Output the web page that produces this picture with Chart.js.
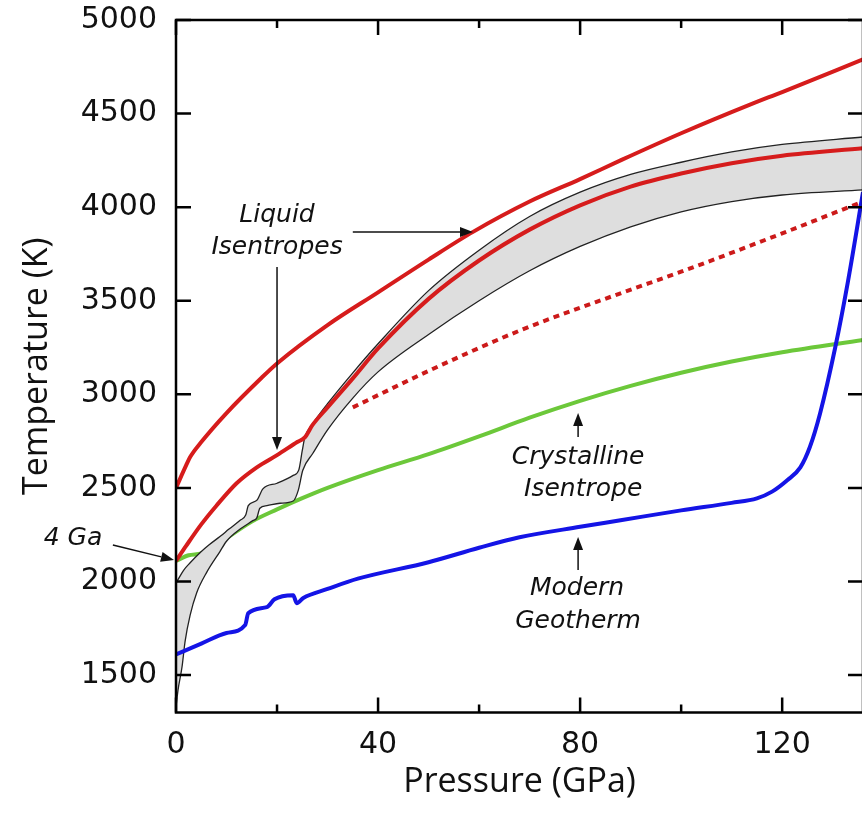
<!DOCTYPE html>
<html>
<head>
<meta charset="utf-8">
<script src="https://cdn.jsdelivr.net/npm/chart.js@4.4.1/dist/chart.umd.min.js"></script>
<style>
  html, body { margin: 0; padding: 0; background: #fff; overflow: hidden; }
  #wrap { position: absolute; left: 0; top: 0; width: 880px; height: 813px; }
</style>
</head>
<body>
<div id="wrap"><canvas id="mainChart" width="880" height="813"></canvas></div>
<script>
// Readings: pressure in GPa, temperature in K.
const hotLiquidP = [0, 2, 2.8, 5, 10, 17, 20, 30, 40, 50, 58.8, 70, 80, 88, 100, 114, 120, 136];
const hotLiquidT = [2500, 2620, 2665, 2745, 2900, 3090, 3165, 3370, 3545, 3720, 3868, 4030, 4150, 4250, 4395, 4552, 4615, 4790];

const liquidP = [0, 2, 5, 8, 12, 16, 20, 24, 25.5, 27, 30, 35, 40, 50, 60, 70, 80, 90, 100, 110, 120, 136];
const liquidT = [2110, 2190, 2305, 2405, 2525, 2610, 2675, 2745, 2770, 2835, 2930, 3085, 3245, 3510, 3715, 3880, 4010, 4110, 4180, 4235, 4275, 4315];

const dottedP = [35, 50, 68, 88, 100, 120, 136];
const dottedT = [2930, 3125, 3340, 3540, 3655, 3860, 4030];

const bandTopP = [0, 0.5, 1.5, 2.8, 4.8, 6.5, 8.7, 10.5, 12.7, 13.8, 14.3, 16, 17.2, 20, 23.2, 24.3, 25, 25.5, 27, 30, 35, 40, 50, 60, 70, 80, 90, 100, 110, 120, 136];
const bandTopT = [1990, 2015, 2060, 2100, 2155, 2195, 2240, 2280, 2327, 2355, 2405, 2434, 2495, 2525, 2567, 2595, 2700, 2770, 2840, 2950, 3115, 3270, 3554, 3770, 3950, 4080, 4175, 4240, 4295, 4335, 4375];

const bandBottomP = [0, 0.4, 1.2, 1.8, 2.8, 4.1, 6.1, 8.7, 10, 12.7, 15.2, 16, 16.6, 18, 20.6, 23.2, 24.2, 25.1, 27.1, 30, 35, 40, 50, 60, 70, 80, 90, 100, 110, 120, 136];
const bandBottomT = [1330, 1420, 1545, 1680, 1820, 1940, 2050, 2160, 2215, 2280, 2325, 2340, 2391, 2405, 2418, 2430, 2487, 2594, 2685, 2810, 2980, 3120, 3320, 3500, 3660, 3790, 3895, 3975, 4030, 4065, 4092];

const crystalP = [0, 2.5, 5, 8, 10, 15, 20, 25, 30, 40, 50, 60, 70, 80, 90, 100, 110, 120, 136];
const crystalT = [2110, 2140, 2150, 2190, 2230, 2320, 2385, 2445, 2500, 2595, 2680, 2775, 2875, 2965, 3045, 3115, 3175, 3225, 3290];

const geothermP = [0, 5, 10, 13.7, 14.3, 18, 19.5, 23.2, 23.9, 25.2, 30, 36, 50, 60, 68, 80, 88, 100, 110, 115, 118, 121, 123.6, 125.5, 127.5, 130.5, 133, 136];
const geothermT = [1610, 1668, 1725, 1767, 1830, 1863, 1905, 1927, 1884, 1912, 1960, 2015, 2103, 2180, 2236, 2292, 2327, 2380, 2420, 2444, 2480, 2541, 2610, 2720, 2898, 3250, 3600, 4080];

const xMajorTicks = [0, 40, 80, 120];
const xMinorTicks = [20, 60, 100];
const yTicks = [1500, 2000, 2500, 3000, 3500, 4000, 4500, 5000];

// Labels and arrows, placed in data units
const notes = [
  { text: 'Liquid', p: 20, t: 3958 },
  { text: 'Isentropes', p: 20, t: 3782 },
  { text: '4 Ga', p: -20.4, t: 2232 },
  { text: 'Crystalline', p: 79.6, t: 2665 },
  { text: 'Isentrope', p: 80.6, t: 2489 },
  { text: 'Modern', p: 79.4, t: 1965 },
  { text: 'Geotherm', p: 79.6, t: 1784 }
];
const arrows = [
  { from: [35, 3867], to: [58.8, 3867] },
  { from: [20, 3680], to: [20, 2703] },
  { from: [-12.5, 2195], to: [-0.4, 2115] },
  { from: [79.6, 2772], to: [79.6, 2900] },
  { from: [79.6, 2061], to: [79.6, 2238] }
];

const pts = (ps, ts) => ps.map((p, i) => ({ x: p, y: ts[i] }));

const frameTicks = {
  id: 'frameTicks',
  afterDraw(chart) {
    const { ctx, chartArea: a, scales: { x, y } } = chart;
    ctx.save();
    ctx.strokeStyle = '#000';
    ctx.lineWidth = 2.5;
    ctx.strokeRect(a.left, a.top, a.right - a.left, a.bottom - a.top);
    ctx.beginPath();
    const xTick = (v, len) => {
      const px = x.getPixelForValue(v);
      ctx.moveTo(px, a.bottom); ctx.lineTo(px, a.bottom - len);
      ctx.moveTo(px, a.top); ctx.lineTo(px, a.top + len);
    };
    xMajorTicks.forEach(v => xTick(v, 15));
    xMinorTicks.forEach(v => xTick(v, 8));
    yTicks.forEach(v => {
      const py = y.getPixelForValue(v);
      ctx.moveTo(a.left, py); ctx.lineTo(a.left + 15, py);
      ctx.moveTo(a.right, py); ctx.lineTo(a.right - 15, py);
    });
    ctx.stroke();
    ctx.restore();
  }
};

const annotations = {
  id: 'annotations',
  afterDraw(chart) {
    const { ctx, scales: { x, y } } = chart;
    ctx.save();
    ctx.fillStyle = '#111';
    ctx.strokeStyle = '#111';
    ctx.font = 'italic 25px "DejaVu Sans"';
    ctx.textAlign = 'center';
    ctx.textBaseline = 'middle';
    notes.forEach(n => ctx.fillText(n.text, x.getPixelForValue(n.p), y.getPixelForValue(n.t)));
    ctx.lineWidth = 1.5;
    arrows.forEach(ar => {
      const x0 = x.getPixelForValue(ar.from[0]), y0 = y.getPixelForValue(ar.from[1]);
      const x1 = x.getPixelForValue(ar.to[0]), y1 = y.getPixelForValue(ar.to[1]);
      const ang = Math.atan2(y1 - y0, x1 - x0);
      const head = 13, half = 5;
      const bx = x1 - head * Math.cos(ang), by = y1 - head * Math.sin(ang);
      ctx.beginPath();
      ctx.moveTo(x0, y0); ctx.lineTo(bx, by);
      ctx.stroke();
      ctx.beginPath();
      ctx.moveTo(x1, y1);
      ctx.lineTo(bx + half * Math.sin(ang), by - half * Math.cos(ang));
      ctx.lineTo(bx - half * Math.sin(ang), by + half * Math.cos(ang));
      ctx.closePath();
      ctx.fill();
    });
    ctx.restore();
  }
};

const curve = (data, color, width, extra) => Object.assign({
  data: data,
  borderColor: color,
  borderWidth: width,
  pointRadius: 0,
  fill: false,
  cubicInterpolationMode: 'monotone'
}, extra || {});

const ctx = document.getElementById('mainChart').getContext('2d');
new Chart(ctx, {
  type: 'line',
  data: {
    datasets: [
      curve(pts(hotLiquidP, hotLiquidT), '#d61c1c', 4),
      curve(pts(liquidP, liquidT), '#d61c1c', 4),
      curve(pts(dottedP, dottedT), '#cc1a1a', 4, { borderDash: [6, 5], borderCapStyle: 'butt' }),
      curve(pts(geothermP, geothermT), '#1414e6', 4),
      curve(pts(bandTopP, bandTopT), '#222', 1.3),
      curve(pts(bandBottomP, bandBottomT), '#222', 1.3, { fill: '-1', backgroundColor: '#dedede' }),
      curve(pts(crystalP, crystalT), '#6cc83a', 4)
    ]
  },
  options: {
    responsive: false,
    devicePixelRatio: 1,
    animation: false,
    layout: { padding: { left: 0, top: 20, right: 17, bottom: 0 } },
    plugins: { legend: { display: false }, tooltip: { enabled: false } },
    scales: {
      x: {
        type: 'linear',
        min: 0,
        max: 136,
        afterFit(scale) { scale.height = 100.5; scale.paddingLeft = 0; scale.paddingRight = 0; },
        afterBuildTicks(scale) { scale.ticks = xMajorTicks.map(v => ({ value: v })); },
        grid: { display: false, drawTicks: false },
        border: { display: false },
        ticks: { color: '#111', padding: 15, font: { family: '"DejaVu Sans"', size: 30 }, maxRotation: 0, callback: v => String(v) },
        title: {
          display: true,
          text: 'Pressure (GPa)',
          color: '#111',
          font: { family: '"Open Sans"', size: 34 },
          padding: { top: 0, bottom: 10 }
        }
      },
      y: {
        type: 'linear',
        min: 1300,
        max: 5000,
        afterFit(scale) { scale.width = 176; scale.paddingTop = 0; scale.paddingBottom = 0; },
        afterBuildTicks(scale) { scale.ticks = yTicks.map(v => ({ value: v })); },
        grid: { display: false, drawTicks: false },
        border: { display: false },
        ticks: { color: '#111', padding: 19, font: { family: '"DejaVu Sans"', size: 30 }, callback: v => String(v) },
        title: {
          display: true,
          text: 'Temperature (K)',
          color: '#111',
          font: { family: '"Open Sans"', size: 34 },
          padding: { top: 17, bottom: 0 }
        }
      }
    }
  },
  plugins: [frameTicks, annotations]
});
</script>
</body>
</html>
